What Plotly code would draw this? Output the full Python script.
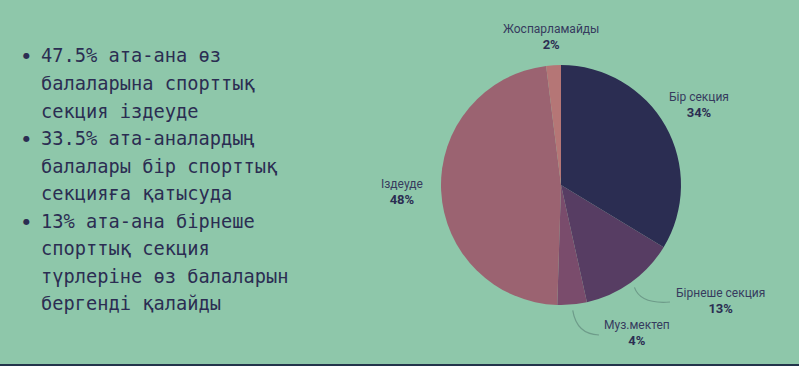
import math
import plotly.graph_objects as go

W, H = 799, 366
BG = "#8EC7AA"
INK = "#2B2D52"

# ---- data ----
categories = ["Бір секция", "Бірнеше секция", "Муз.мектеп", "Іздеуде", "Жоспарламайды"]
values = [34, 13, 4, 48, 2]
colors = ["#2B2D52", "#573D63", "#7A4C6C", "#9B6371", "#B57676"]

bullet_points = [
    ["47.5% ата-ана өз", "балаларына спорттық", "секция іздеуде"],
    ["33.5% ата-аналардың", "балалары бір спорттық", "секцияға қатысуда"],
    ["13% ата-ана бірнеше", "спорттық секция", "түрлеріне өз балаларын", "бергенді қалайды"],
]

# ---- geometry (pixels) ----
cx, cy, R = 561, 185, 120
def px(x):
    return x / W
def py(y):
    return 1 - y / H

fig = go.Figure(go.Pie(
    labels=categories,
    values=values,
    marker=dict(colors=colors, line=dict(width=0)),
    sort=False,
    direction="clockwise",
    rotation=0,
    textinfo="none",
    hoverinfo="label+value",
    showlegend=False,
    domain=dict(x=[px(cx - R), px(cx + R)], y=[py(cy + R), py(cy - R)]),
))

annotations = []
# left text block
line_h = 27.5
y0 = 56
i = 0
for pt in bullet_points:
    annotations.append(dict(x=px(26), y=py(y0 + i * line_h), xref="paper", yref="paper",
                            text="●", showarrow=False, xanchor="center", yanchor="middle",
                            font=dict(family="DejaVu Sans", size=8, color=INK)))
    for ln in pt:
        annotations.append(dict(x=px(39), y=py(y0 + i * line_h), xref="paper", yref="paper",
                                text=ln, showarrow=False, xanchor="left", yanchor="middle",
                                font=dict(family="DejaVu Sans Mono", size=18.7, color=INK)))
        i += 1

# pie labels (pixel centres of label text)
label_pos = {
    "Жоспарламайды": (551, 37),
    "Бір секция": (699, 105),
    "Бірнеше секция": (720, 301),
    "Муз.мектеп": (637, 333),
    "Іздеуде": (402, 192),
}
for c, v in zip(categories, values):
    lx, ly = label_pos[c]
    annotations.append(dict(x=px(lx), y=py(ly), xref="paper", yref="paper",
                            text=f"{c}<br><b><span style='font-size:13px;color:#2B2D52'>{v}%</span></b>",
                            showarrow=False, xanchor="center", yanchor="middle",
                            font=dict(family="Roboto", size=12, color="#363B5E")))

# curved connectors for the two small bottom labels
shapes = []
total = sum(values)
acc = 0
mids = {}
for c, v in zip(categories, values):
    mids[c] = (acc + v / 2) / total * 2 * math.pi
    acc += v
def conn(cat, end, ctrl_off):
    a = mids[cat]
    sx, sy = cx + 126 * math.sin(a), cy - 126 * math.cos(a)
    ex, ey = end
    qx, qy = sx + ctrl_off[0], sy + ctrl_off[1]
    return f"M {px(sx)} {py(sy)} Q {px(qx)} {py(qy)} {px(ex)} {py(ey)}"
shapes.append(dict(type="path", xref="paper", yref="paper",
                   path=conn("Бірнеше секция", (670, 302), (6, 17)),
                   line=dict(color="#6E9C8A", width=1.2)))
shapes.append(dict(type="path", xref="paper", yref="paper",
                   path=conn("Муз.мектеп", (599, 335), (4, 24)),
                   line=dict(color="#6E9C8A", width=1.2)))
# bottom rule
shapes.append(dict(type="rect", xref="paper", yref="paper", x0=0, x1=1, y0=0, y1=2 / H,
                   fillcolor="#22344A", line=dict(width=0)))

fig.update_layout(
    width=W, height=H,
    margin=dict(l=0, r=0, t=0, b=0),
    paper_bgcolor=BG, plot_bgcolor=BG,
    annotations=annotations,
    shapes=shapes,
)
fig.write_html("out.html",
               config={"displayModeBar": False},
               post_script="document.body.style.margin='0';document.body.style.background='" + BG + "';")
